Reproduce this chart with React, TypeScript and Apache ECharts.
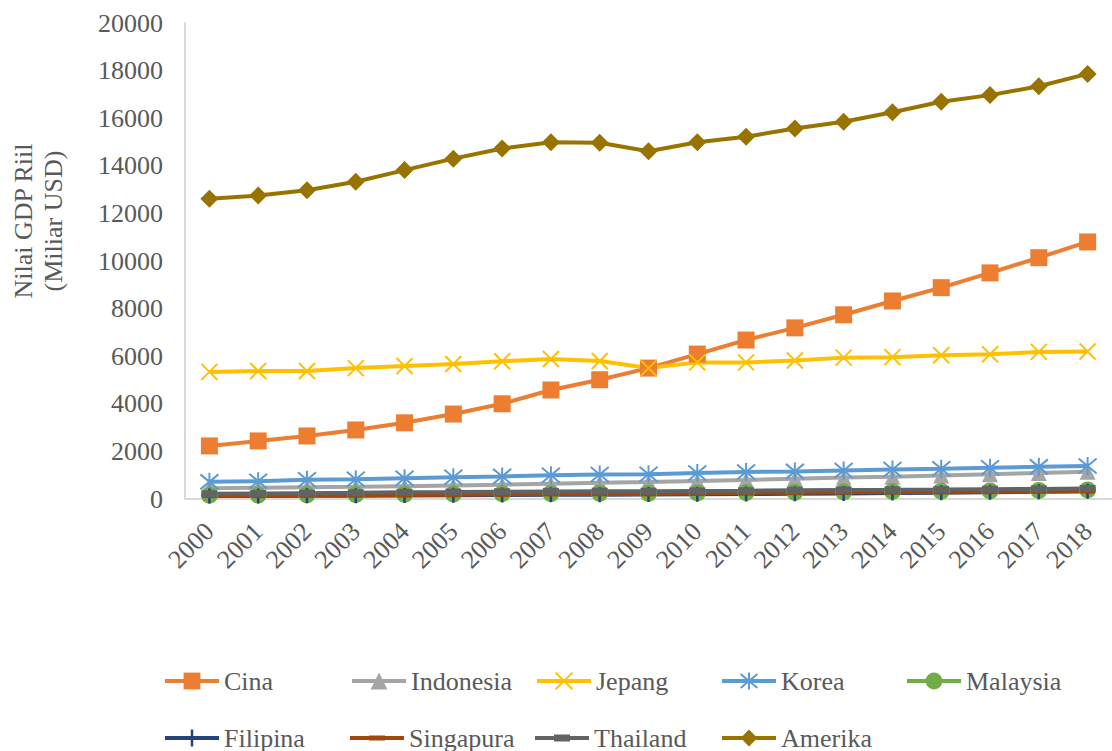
import React, { useEffect, useRef } from "react";
import * as echarts from "echarts";

const years = ["2000","2001","2002","2003","2004","2005","2006","2007","2008","2009","2010","2011","2012","2013","2014","2015","2016","2017","2018"];

const cina = [2230, 2440, 2650, 2900, 3200, 3570, 4000, 4580, 5010, 5500, 6090, 6680, 7190, 7740, 8320, 8880, 9500, 10140, 10800];
const indonesia = [450, 470, 490, 510, 540, 570, 600, 640, 680, 710, 760, 800, 850, 900, 940, 990, 1040, 1090, 1140];
const jepang = [5340, 5380, 5380, 5500, 5590, 5670, 5790, 5880, 5800, 5500, 5740, 5740, 5820, 5940, 5960, 6040, 6080, 6180, 6200];
const korea = [720, 750, 810, 830, 870, 910, 950, 1000, 1030, 1040, 1090, 1130, 1160, 1200, 1240, 1270, 1310, 1350, 1390];
const malaysia = [160, 165, 175, 185, 195, 205, 220, 230, 240, 240, 255, 270, 280, 295, 315, 330, 340, 360, 380];
const filipina = [125, 130, 135, 140, 150, 155, 165, 175, 180, 185, 200, 210, 220, 235, 250, 265, 285, 305, 325];
const singapura = [140, 140, 145, 155, 165, 180, 195, 210, 215, 215, 240, 255, 265, 280, 290, 295, 305, 320, 330];
const thailand = [220, 230, 245, 260, 280, 290, 305, 320, 330, 325, 340, 345, 370, 380, 385, 395, 410, 425, 445];
const amerika = [12620, 12750, 12970, 13330, 13820, 14300, 14730, 14990, 14970, 14610, 14990, 15220, 15570, 15850, 16250, 16690, 16970, 17340, 17860];

const yTicks = { min: 0, max: 20000, interval: 2000 };

const FONT = '"Liberation Serif", "Times New Roman", serif';
const TEXT = "#595959";

const X_SYM = "path://M0,0L10,10M10,0L0,10";
const AST_SYM = "path://M0,0L10,10M10,0L0,10M5,-1L5,11";
const PLUS_SYM = "path://M5,0L5,10M0,5L10,5";
const DASH_ICON = (h: number) =>
  `path://M0,0H0.01V0.01H0Z M54,21H53.99V20.99H54Z M0,8.5H54V12.5H0Z M19,${10.5 - h / 2}H35V${10.5 + h / 2}H19Z`;

type S = {
  name: string;
  data: number[];
  color: string;
  symbol: string;
  size: number | number[];
  border?: number;
  legendIcon?: string;
};

const seriesDefs: S[] = [
  { name: "Cina", data: cina, color: "#ED7D31", symbol: "rect", size: 17 },
  { name: "Indonesia", data: indonesia, color: "#A5A5A5", symbol: "triangle", size: 16 },
  { name: "Jepang", data: jepang, color: "#FFC000", symbol: X_SYM, size: 16, border: 2 },
  { name: "Korea", data: korea, color: "#5B9BD5", symbol: AST_SYM, size: 18, border: 2 },
  { name: "Malaysia", data: malaysia, color: "#70AD47", symbol: "circle", size: 17 },
  { name: "Filipina", data: filipina, color: "#264478", symbol: PLUS_SYM, size: 15, border: 2.5 },
  { name: "Singapura", data: singapura, color: "#9E480E", symbol: "rect", size: [14, 5], legendIcon: DASH_ICON(5) },
  { name: "Thailand", data: thailand, color: "#636363", symbol: "rect", size: [16, 7], legendIcon: DASH_ICON(7) },
  { name: "Amerika", data: amerika, color: "#997300", symbol: "diamond", size: 18 },
];

const legendPos = [
  [163, 668], [350, 668], [535, 668], [720, 668], [905, 668],
  [163, 725], [350, 725], [535, 725], [720, 725],
];

export default function App() {
  const ref = useRef<HTMLDivElement>(null);
  useEffect(() => {
    if (!ref.current) return;
    const chart = echarts.init(ref.current, undefined, { renderer: "svg" });
    const option: any = {
      animation: false,
      backgroundColor: "#FFFFFF",
      grid: { left: 185, right: -7, top: 23, bottom: 252, containLabel: false },
      xAxis: {
        type: "category",
        data: years,
        boundaryGap: true,
        axisLine: { show: true, lineStyle: { color: "#D9D9D9", width: 2 } },
        axisTick: { show: false },
        axisLabel: { rotate: 45, margin: 28, color: TEXT, fontFamily: FONT, fontSize: 26, interval: 0 },
        splitLine: { show: false },
      },
      yAxis: {
        type: "value",
        min: yTicks.min,
        max: yTicks.max,
        interval: yTicks.interval,
        axisLine: { show: true, lineStyle: { color: "#D9D9D9", width: 2 } },
        axisTick: { show: false },
        axisLabel: {
          margin: 22,
          color: TEXT,
          fontFamily: FONT,
          fontSize: 26,
          formatter: (v: number) => String(v),
        },
        splitLine: { show: false },
      },
      legend: seriesDefs.map((s, i) => {
        const l: any = {
          data: [s.name],
          left: legendPos[i][0],
          top: legendPos[i][1],
          padding: 0,
          itemGap: 0,
          itemWidth: 54,
          itemHeight: 21,
          selectedMode: false,
          textStyle: { color: TEXT, fontFamily: FONT, fontSize: 26 },
          lineStyle: { width: 4 },
        };
        if (s.border) l.itemStyle = { borderWidth: s.border, borderColor: s.color };
        if (s.legendIcon) {
          l.icon = s.legendIcon;
          l.itemStyle = { color: s.color, borderWidth: 0 };
        }
        return l;
      }),
      graphic: [
        {
          type: "text",
          x: 38,
          y: 221,
          rotation: Math.PI / 2,
          style: {
            text: "Nilai GDP Riil\n(Miliar USD)",
            font: `26px ${FONT}`,
            fill: TEXT,
            align: "center",
            verticalAlign: "middle",
            lineHeight: 30,
          },
        },
      ],
      series: seriesDefs.map((s) => ({
        type: "line",
        name: s.name,
        data: s.data,
        symbol: s.symbol,
        symbolSize: s.size,
        showAllSymbol: true,
        smooth: false,
        lineStyle: { color: s.color, width: 4 },
        itemStyle: s.border
          ? { color: s.color, borderColor: s.color, borderWidth: s.border }
          : { color: s.color, borderWidth: 0 },
        emphasis: { disabled: true },
      })),
    };
    chart.setOption(option);
    return () => chart.dispose();
  }, []);
  return (
    <div
      ref={ref}
      style={{ position: "fixed", left: 0, top: 0, width: 1112, height: 751, background: "#fff" }}
    />
  );
}
